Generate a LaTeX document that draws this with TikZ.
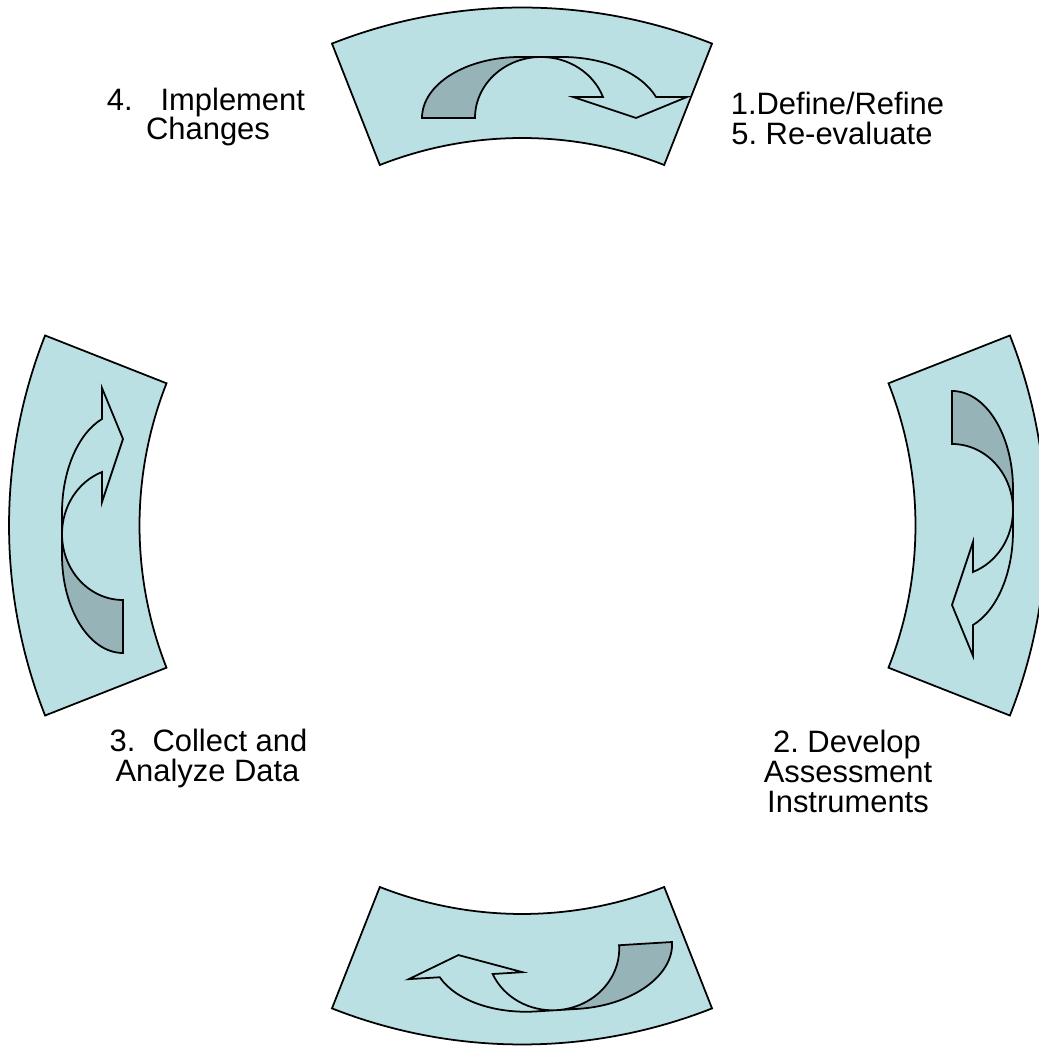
\documentclass[tikz,border=0pt]{standalone}
\usepackage{fontspec}
\setmainfont{Liberation Sans}
\usetikzlibrary{calc}
\frenchspacing

\definecolor{bandfill}{RGB}{187,224,227}
\definecolor{ribbonshade}{RGB}{150,179,183}

\tikzset{
  band/.style={draw=black, line width=1pt, fill=bandfill, line join=miter},
  backside/.style={draw=black, line width=1pt, fill=ribbonshade, line join=miter},
  frontside/.style={draw=black, line width=1pt, fill=bandfill, line join=miter},
  steplabel/.style={font=\fontsize{17.6pt}{17pt}\selectfont, inner sep=0pt},
  % twisted U-turn ribbon: tail at the origin, flowing along +x, arching toward +y
  uturn/.pic={
    \draw[backside] (0,0)
      arc[start angle=180, end angle=90, x radius=98, y radius=61]
      -- (119,61)
      arc[start angle=90, end angle=180, x radius=66, y radius=61]
      -- cycle;
    \draw[frontside] (119,61)
      arc[start angle=90, end angle=20.14, x radius=66, y radius=61]
      -- (151,21) -- (214,0) -- (265,21) -- (234,21)
      arc[start angle=20.14, end angle=90, x radius=100, y radius=61]
      -- cycle;
  }
}

\begin{document}
\begin{tikzpicture}[x=0.2mm, y=0.2mm]
  \useasboundingbox (0,0) rectangle (1039,1046);
  \clip (0,0) rectangle (1039,1046);

  \coordinate (ctb) at (522,520);
  \coordinate (clr) at (527.5,520.5);

  % four ring segments
  \draw[band] ($(ctb)+(68.5:518.5)$) arc[start angle=68.5, end angle=111.5, radius=518.5]
    -- ($(ctb)+(111.5:388)$) arc[start angle=111.5, end angle=68.5, radius=388] -- cycle;
  \draw[band] ($(clr)+(-21.5:518.5)$) arc[start angle=-21.5, end angle=21.5, radius=518.5]
    -- ($(clr)+(21.5:388)$) arc[start angle=21.5, end angle=-21.5, radius=388] -- cycle;
  \draw[band] ($(ctb)+(248.5:518.5)$) arc[start angle=248.5, end angle=291.5, radius=518.5]
    -- ($(ctb)+(291.5:388)$) arc[start angle=291.5, end angle=248.5, radius=388] -- cycle;
  \draw[band] ($(clr)+(158.5:518.5)$) arc[start angle=158.5, end angle=201.5, radius=518.5]
    -- ($(clr)+(201.5:388)$) arc[start angle=201.5, end angle=158.5, radius=388] -- cycle;

  % U-turn arrows inside the segments
  \pic at (422,928) {uturn};
  \pic[rotate=-90] at (952,655) {uturn};
  \pic[rotate=183.5] at (672,104) {uturn};
  \pic[rotate=90] at (123,393) {uturn};

  % step labels
  \node[steplabel, anchor=base] (implA) at (206,935) {4.\hspace{0.9em}Implement};
  \node[steplabel, anchor=base] (implB) at (208,906) {Changes};
  \node[steplabel, anchor=base west] (defA) at (730.5,931) {1.Define/Refine};
  \node[steplabel, anchor=base west] (defB) at (731,901) {5. Re-evaluate};
  \node[steplabel, anchor=base] (colA) at (208.5,294) {3.\ \ Collect and};
  \node[steplabel, anchor=base] (colB) at (207.5,264) {Analyze Data};
  \node[steplabel, anchor=base] (devA) at (847,293) {2. Develop};
  \node[steplabel, anchor=base] (devB) at (848,263) {Assessment};
  \node[steplabel, anchor=base] (devC) at (848,233) {Instruments};
\end{tikzpicture}
\end{document}
